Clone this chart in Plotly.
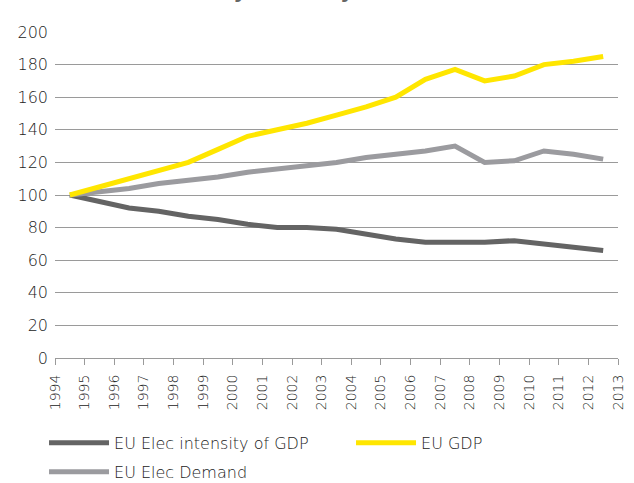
import plotly.graph_objects as go

# ─── DATA ───
years = [str(y) for y in range(1994, 2014)]          # category boundary labels
intensity = [100, 96, 92, 90, 87, 85, 82, 80, 80, 79, 76, 73, 71, 71, 71, 72, 70, 68, 66]
gdp = [100, 105, 110, 115, 120, 128, 136, 140, 144, 149, 154, 160, 171, 177, 170, 173, 180, 182, 185]
demand = [100, 102, 104, 107, 109, 111, 114, 116, 118, 120, 123, 125, 127, 130, 120, 121, 127, 125, 122]

# ─── THEME ───
_TEXT = "#222222"
_GRID = "#9a9a9a"
_DARK = "#646464"
_LIGHT = "#9b9b9f"
_YELLOW = "#ffe600"
_FONT = "DejaVu Sans, sans-serif"

# points sit in the middle of each year slot, labels on the slot edges
xs = [i + 0.5 for i in range(len(gdp))]

fig = go.Figure()
fig.add_trace(go.Scatter(x=xs, y=intensity, mode="lines", name="EU Elec intensity of GDP",
                         line=dict(color=_DARK, width=5), legend="legend"))
fig.add_trace(go.Scatter(x=xs, y=demand, mode="lines", name="EU Elec Demand",
                         line=dict(color=_LIGHT, width=5), legend="legend2"))
fig.add_trace(go.Scatter(x=xs, y=gdp, mode="lines", name="EU GDP",
                         line=dict(color=_YELLOW, width=5), legend="legend"))

_leg = dict(orientation="h", x=-0.0195, xanchor="left", yanchor="top",
            entrywidth=232, itemwidth=60, font=dict(size=16, color=_TEXT),
            bgcolor="rgba(0,0,0,0)", traceorder="normal")

fig.update_layout(
    width=634, height=483,
    paper_bgcolor="white", plot_bgcolor="white",
    font=dict(family=_FONT, color=_TEXT, size=16, weight=300),
    margin=dict(l=55, r=16, t=32, b=125, autoexpand=False),
    legend=dict(_leg, y=-0.208),
    legend2=dict(_leg, y=-0.297),
)
# title of the source chart, cropped off the top edge (only descenders show)
fig.add_annotation(text="<b>Electricity intensity</b>", xref="paper", yref="paper",
                   x=(131 - 55) / 563, y=(358 - 5) / 326, xanchor="left", yanchor="bottom",
                   showarrow=False, font=dict(size=20, color="#666666", family=_FONT))

fig.update_xaxes(
    range=[0, len(gdp)], tickmode="array", tickvals=list(range(len(years))), ticktext=years,
    tickangle=-90, ticks="outside", ticklen=6, tickcolor=_GRID,
    showline=True, linecolor=_GRID, linewidth=1, showgrid=False, zeroline=False,
    ticklabelstandoff=4, tickfont=dict(size=14, color=_TEXT),
)
fig.update_yaxes(
    range=[0, 200], dtick=20, showgrid=True, gridcolor=_GRID, gridwidth=1,
    zeroline=False, showline=False, ticks="", ticklabelstandoff=6,
    tickfont=dict(size=16, color=_TEXT),
)

fig.write_html("out.html", config={"displayModeBar": False},
               post_script="document.body.style.margin='0px';")
